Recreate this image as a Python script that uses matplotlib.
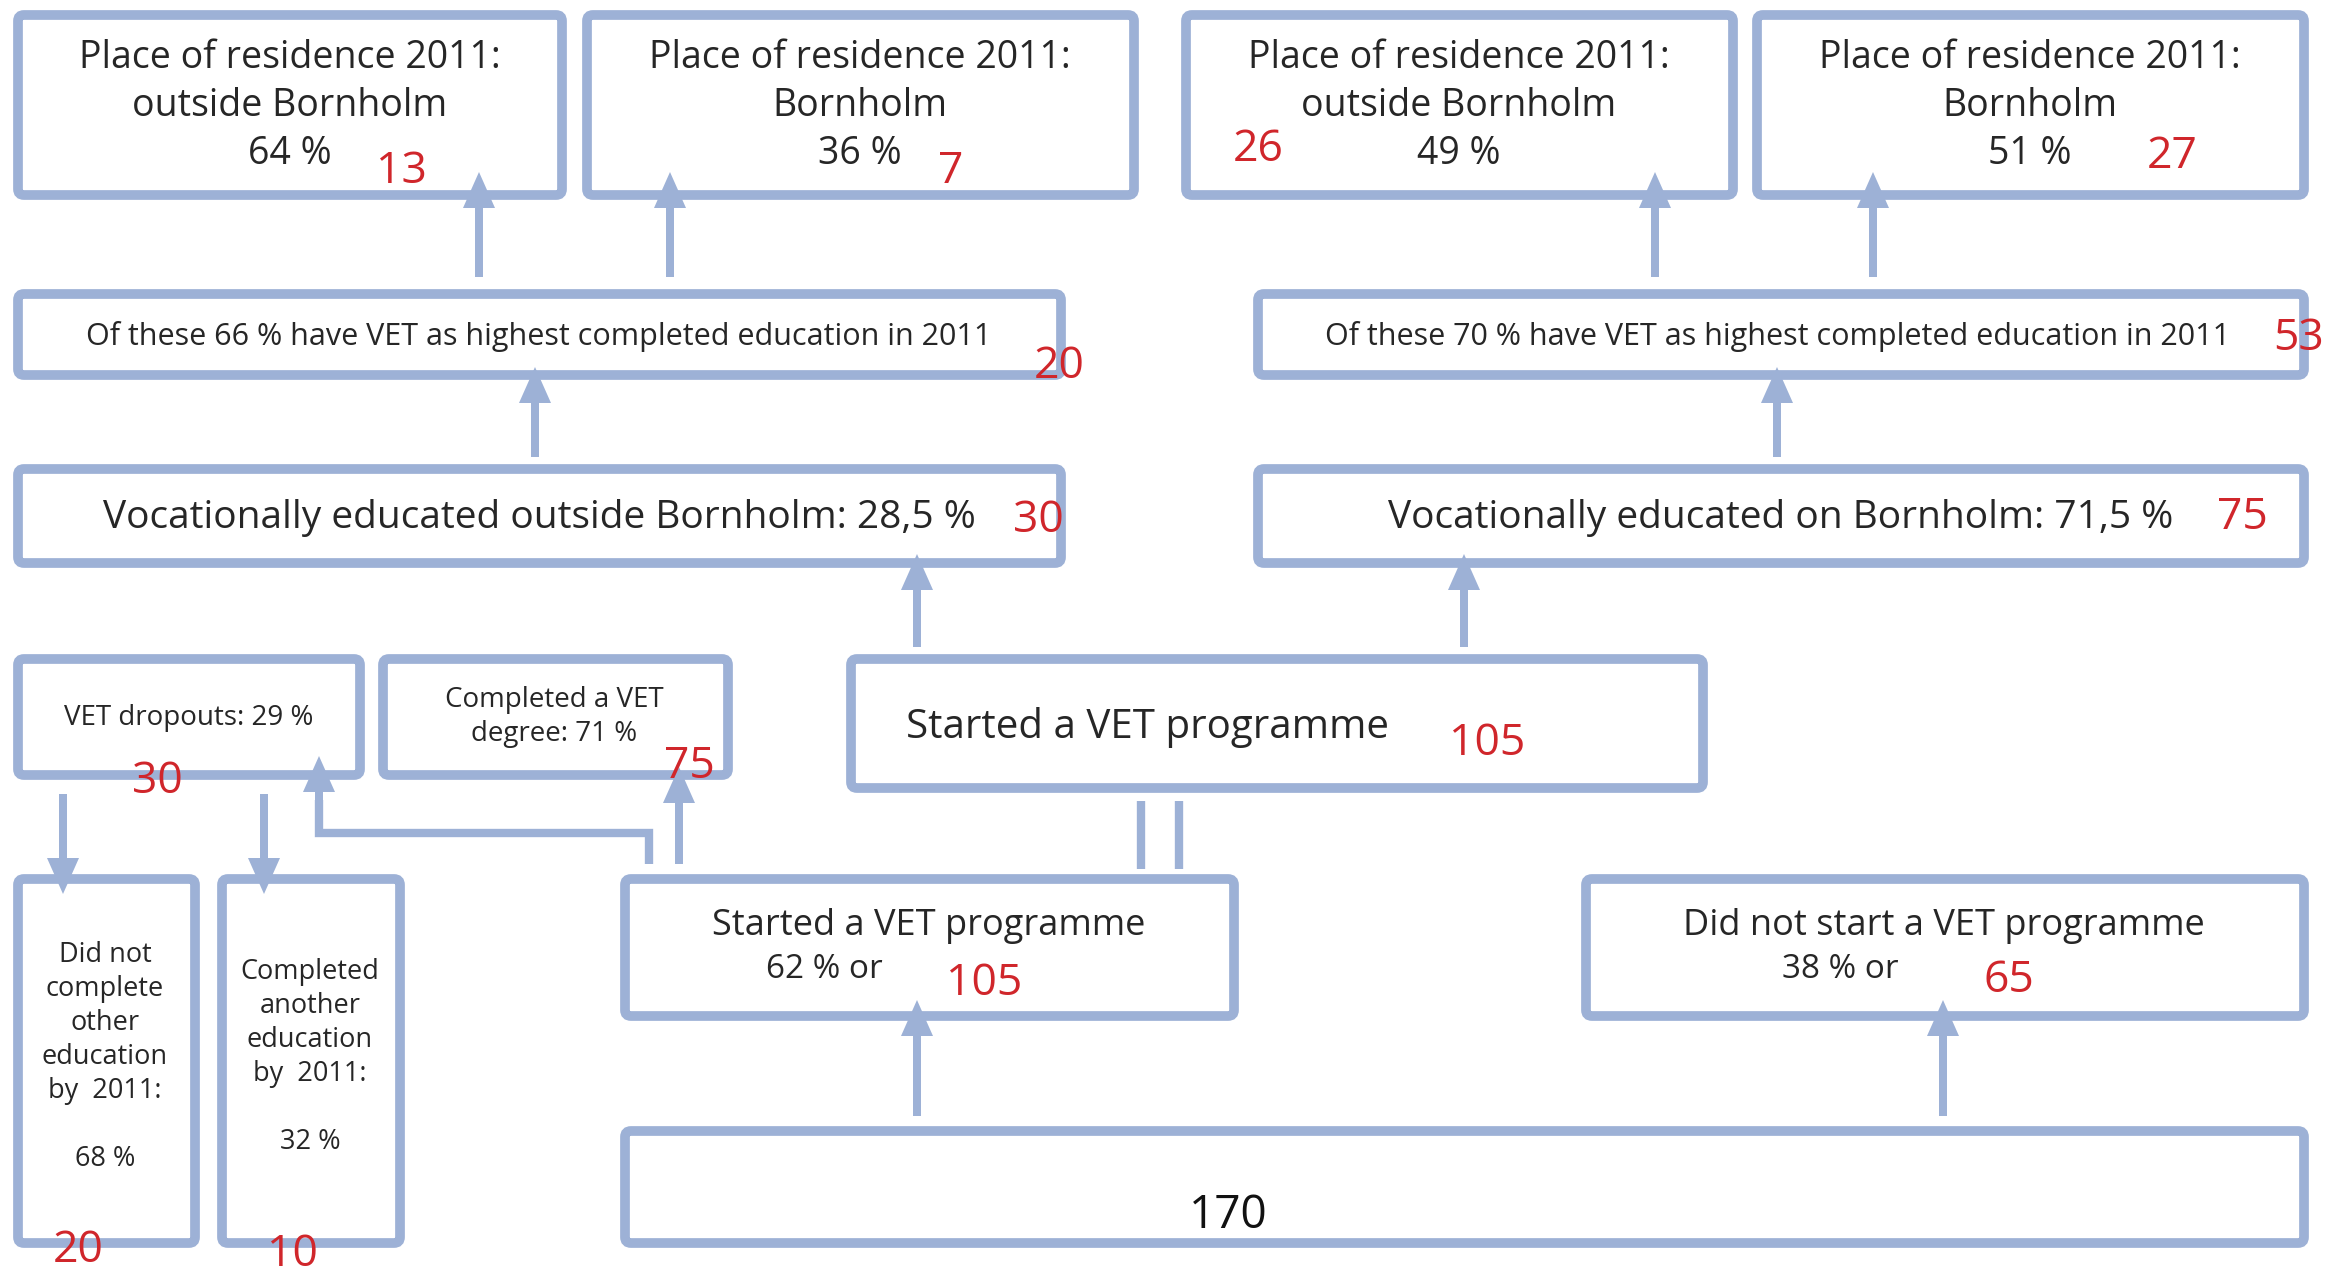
import matplotlib
matplotlib.use("Agg")
import matplotlib.pyplot as plt
from matplotlib.patches import FancyBboxPatch, FancyArrow

# --- content ---
box_texts = [
    "Place of residence 2011:\noutside Bornholm\n64 %",
    "Place of residence 2011:\nBornholm\n36 %",
    "Place of residence 2011:\noutside Bornholm\n49 %",
    "Place of residence 2011:\nBornholm\n51 %",
    "Of these 66 % have VET as highest completed education in 2011",
    "Of these 70 % have VET as highest completed education in 2011",
    "Vocationally educated outside Bornholm: 28,5 %",
    "Vocationally educated on Bornholm: 71,5 %",
    "VET dropouts: 29 %",
    "Completed a VET\ndegree: 71 %",
    "Started a VET programme",
    "Did not\ncomplete\nother\neducation\nby  2011:\n\n68 %",
    "Completed\nanother\neducation\nby  2011:\n\n32 %",
    "Started a VET programme",
    "Did not start a VET programme",
    "",
]
share_texts = ["62 % or", "38 % or"]
counts = [13, 7, 26, 27, 20, 53, 30, 75, 30, 75, 105, 105, 65, 20, 10]
total = 170

# --- layout (pixel coordinates, y down) ---
boxes = [  # x0, y0, x1, y1
    (18, 15, 562, 195), (587, 15, 1134, 195),
    (1186, 15, 1733, 195), (1757, 15, 2304, 195),
    (18, 294, 1061, 375), (1258, 294, 2304, 375),
    (18, 469, 1061, 563), (1258, 469, 2304, 563),
    (18, 659, 360, 775), (383, 659, 728, 775),
    (851, 659, 1703, 788),
    (18, 879, 195, 1243), (222, 879, 400, 1243),
    (625, 879, 1234, 1016), (1586, 879, 2304, 1016),
    (625, 1131, 2304, 1243),
]
text_pos = [(290, 106), (860, 106), (1459, 106), (2030, 106),
            (539, 336), (1778, 336), (539, 518), (1781, 518),
            (189, 718), (554, 717), (1147, 727),
            (105, 1057), (310, 1057), (929, 926), (1944, 926), (0, 0)]
text_size = [27, 27, 27, 27, 22, 22, 28, 28, 20, 20, 29, 19.5, 19.5,
             26, 26, 10]
line_pitch = [48, 48, 48, 48, 0, 0, 0, 0, 0, 34.5, 0, 34, 34, 0, 0, 0]
share_pos = [(824, 969), (1840, 969)]
count_pos = [(401, 172), (951, 172), (1258, 150), (2172, 157), (1059, 367),
             (2299, 339), (1038, 521), (2242, 518), (157, 782), (689, 767),
             (1487, 744), (984, 984), (2009, 981), (78, 1251), (292, 1255)]
total_pos = (1228, 1216)

up_arrows = [  # x, y_start, y_end
    (479, 277, 172), (670, 277, 172), (1655, 277, 172), (1873, 277, 172),
    (535, 457, 367), (1777, 457, 367), (917, 647, 554), (1464, 647, 554),
    (917, 1116, 1000), (1943, 1116, 1000), (679, 864, 767),
]
down_arrows = [(63, 794, 894), (264, 794, 894)]

edge = "#9db1d6"
red = "#d0262b"
font = "Open Sans"

fig = plt.figure(figsize=(23.49, 12.77), dpi=100)
ax = fig.add_axes([0, 0, 1, 1])
ax.set_xlim(0, 2349)
ax.set_ylim(1277, 0)
ax.axis("off")

for (x0, y0, x1, y1), t, (tx, ty), fs, lp in zip(boxes, box_texts, text_pos,
                                                  text_size, line_pitch):
    ax.add_patch(FancyBboxPatch((x0, y0), x1 - x0, y1 - y0,
                                boxstyle="round,pad=0,rounding_size=6",
                                fill=False, ec=edge, lw=7))
    lines = t.split("\n")
    n = len(lines)
    # one text per line so each line sits exactly where the reference has it
    for i, line in enumerate(lines):
        if line:
            ax.text(tx, ty + (i - (n - 1) / 2) * lp, line, ha="center",
                    va="center", fontsize=fs, family=font, color="#262626")

for t, (tx, ty) in zip(share_texts, share_pos):
    ax.text(tx, ty, t, ha="center", va="center", fontsize=24,
            family=font, color="#262626")

for c, (cx, cy) in zip(counts, count_pos):
    ax.text(cx, cy, str(c), ha="center", va="center", fontsize=32,
            family=font, color=red)
ax.text(*total_pos, str(total), ha="center", va="center", fontsize=33,
        family=font, color="#111111")

for x, y0, y1 in up_arrows + down_arrows:
    ax.add_patch(FancyArrow(x, y0, 0, y1 - y0, width=8, head_width=32,
                            head_length=36, length_includes_head=True,
                            color=edge, lw=0))

# elbow connector to the dropouts box
ax.plot([649, 649, 319, 319], [864, 833, 833, 800], color=edge, lw=6,
        solid_joinstyle="miter", solid_capstyle="butt")
ax.add_patch(FancyArrow(319, 805, 0, -49, width=8, head_width=32,
                        head_length=36, length_includes_head=True,
                        color=edge, lw=0))

# double line between the two "Started a VET programme" boxes
for x in (1141, 1179):
    ax.plot([x, x], [801, 869], color=edge, lw=6, solid_capstyle="butt")

fig.savefig("out.png", dpi=100, facecolor="white")
